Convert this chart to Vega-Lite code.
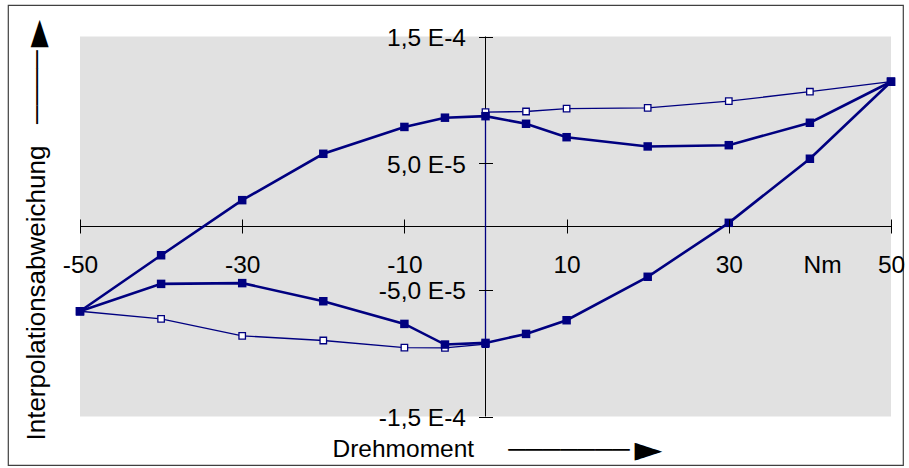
{
  "$schema": "https://vega.github.io/schema/vega-lite/v6.json",
  "width": 895,
  "height": 460,
  "autosize": {"type": "none"},
  "padding": {"left": 8, "top": 5, "right": 6, "bottom": 3},
  "background": "white",
  "config": {
    "view": {"stroke": "#404040", "strokeWidth": 1.2, "fill": "white"},
    "font": "Liberation Sans"
  },
  "resolve": {"axis": {"x": "independent", "y": "independent"}},
  "data": {
    "values": [
      {"s": "A", "i": 1, "x": -50, "y": -6.69e-5},
      {"s": "A", "i": 2, "x": -40, "y": -2.27e-5},
      {"s": "A", "i": 3, "x": -30, "y": 2.08e-5},
      {"s": "A", "i": 4, "x": -20, "y": 5.74e-5},
      {"s": "A", "i": 5, "x": -10, "y": 7.86e-5},
      {"s": "A", "i": 6, "x": -5, "y": 8.59e-5},
      {"s": "A", "i": 7, "x": 0, "y": 8.71e-5},
      {"s": "A", "i": 8, "x": 5, "y": 8.11e-5},
      {"s": "A", "i": 9, "x": 10, "y": 7.05e-5},
      {"s": "A", "i": 10, "x": 20, "y": 6.32e-5},
      {"s": "A", "i": 11, "x": 30, "y": 6.42e-5},
      {"s": "A", "i": 12, "x": 40, "y": 8.19e-5},
      {"s": "A", "i": 13, "x": 50, "y": 11.43e-5},
      {"s": "B", "i": 1, "x": -50, "y": -6.69e-5},
      {"s": "B", "i": 2, "x": -40, "y": -4.53e-5},
      {"s": "B", "i": 3, "x": -30, "y": -4.47e-5},
      {"s": "B", "i": 4, "x": -20, "y": -5.90e-5},
      {"s": "B", "i": 5, "x": -10, "y": -7.69e-5},
      {"s": "B", "i": 6, "x": -5, "y": -9.32e-5},
      {"s": "B", "i": 7, "x": 0, "y": -9.19e-5},
      {"s": "B", "i": 8, "x": 5, "y": -8.48e-5},
      {"s": "B", "i": 9, "x": 10, "y": -7.40e-5},
      {"s": "B", "i": 10, "x": 20, "y": -3.97e-5},
      {"s": "B", "i": 11, "x": 30, "y": 0.29e-5},
      {"s": "B", "i": 12, "x": 40, "y": 5.35e-5},
      {"s": "B", "i": 13, "x": 50, "y": 11.43e-5},
      {"s": "C", "i": 1, "x": -50, "y": -6.69e-5},
      {"s": "C", "i": 2, "x": -40, "y": -7.29e-5},
      {"s": "C", "i": 3, "x": -30, "y": -8.63e-5},
      {"s": "C", "i": 4, "x": -20, "y": -9.00e-5},
      {"s": "C", "i": 5, "x": -10, "y": -9.56e-5},
      {"s": "C", "i": 6, "x": -5, "y": -9.58e-5},
      {"s": "C", "i": 7, "x": 0, "y": -9.28e-5},
      {"s": "C", "i": 8, "x": 0, "y": 9.03e-5},
      {"s": "C", "i": 9, "x": 5, "y": 9.08e-5},
      {"s": "C", "i": 10, "x": 10, "y": 9.30e-5},
      {"s": "C", "i": 11, "x": 20, "y": 9.37e-5},
      {"s": "C", "i": 12, "x": 30, "y": 9.90e-5},
      {"s": "C", "i": 13, "x": 40, "y": 10.64e-5},
      {"s": "C", "i": 14, "x": 50, "y": 11.43e-5}
    ]
  },
  "layer": [
    {
      "data": {"values": [{}]},
      "mark": {"type": "rect", "fill": "#e1e1e1"},
      "encoding": {
        "x": {
          "datum": -50, "type": "quantitative",
          "scale": {"domain": [-50, 50], "range": [72, 883], "nice": false, "zero": false},
          "axis": {
            "orient": "bottom", "offset": -246, "zindex": 1,
            "domain": false, "grid": false,
            "values": [-50, -30, -10, 10, 30, 41.5, 50],
            "tickSize": 14, "tickColor": "black", "tickWidth": 1,
            "tickOpacity": {"condition": {"test": "datum.value === 41.5", "value": 0}, "value": 1},
            "labelExpr": "datum.value === 41.5 ? 'Nm' : '' + datum.value",
            "labelFont": "Liberation Sans", "labelFontSize": 24.5, "labelColor": "black",
            "labelPadding": 20.5, "labelBaseline": "top",
            "labelFlush": false, "labelOverlap": false, "labelBound": false,
            "title": "Drehmoment\u00a0\u00a0\u00a0\u00a0\u00a0───────",
            "titleFont": "Liberation Sans", "titleFontSize": 24.5, "titleFontWeight": "normal", "titleColor": "black",
            "titleX": 324, "titleY": 237, "titleAlign": "left", "titleBaseline": "alphabetic", "titleAngle": 0
          }
        },
        "x2": {"datum": 50},
        "y": {
          "datum": -1.5e-4, "type": "quantitative",
          "scale": {"domain": [-1.5e-4, 1.5e-4], "range": [411.5, 31.5], "nice": false, "zero": false},
          "axis": {
            "orient": "left", "offset": -484.5, "zindex": 1,
            "domain": false, "grid": false,
            "values": [-1.5e-4, -5e-5, 5e-5, 1.5e-4],
            "tickSize": 14, "tickColor": "black", "tickWidth": 1,
            "labelExpr": "datum.value > 1e-4 ? '1,5 E-4' : datum.value > 0 ? '5,0 E-5' : datum.value > -1e-4 ? '-5,0 E-5' : '-1,5 E-4'",
            "labelFont": "Liberation Sans", "labelFontSize": 24.5, "labelColor": "black",
            "labelPadding": 13, "labelAlign": "right", "labelBaseline": "alphabetic", "labelOffset": 9,
            "labelFlush": false, "labelOverlap": false, "labelBound": false,
            "title": "Interpolationsabweichung\u00a0\u00a0\u00a0────",
            "titleFont": "Liberation Sans", "titleFontSize": 26, "titleFontWeight": "normal", "titleColor": "black",
            "titleX": -448.5, "titleY": 435, "titleAlign": "left", "titleBaseline": "alphabetic", "titleAngle": -90
          }
        },
        "y2": {"datum": 1.5e-4}
      }
    },
    {
      "data": {"values": [{}]},
      "mark": {"type": "rule", "color": "black", "strokeWidth": 1},
      "encoding": {
        "x": {
          "datum": 0, "type": "quantitative",
          "axis": {
            "orient": "bottom", "offset": 0, "zindex": 1,
            "domain": false, "ticks": false, "labels": false, "grid": false,
            "title": "►",
            "titleFont": "DejaVu Sans", "titleFontSize": 36, "titleFontWeight": "normal", "titleColor": "black",
            "titleX": 626, "titleY": -4.5, "titleAlign": "left", "titleBaseline": "alphabetic", "titleAngle": 0
          }
        },
        "y": {"datum": -1.5e-4, "type": "quantitative", "axis": null},
        "y2": {"datum": 1.5e-4}
      }
    },
    {
      "data": {"values": [{}]},
      "mark": {"type": "rule", "color": "black", "strokeWidth": 1},
      "encoding": {
        "y": {
          "datum": 0, "type": "quantitative",
          "axis": {
            "orient": "left", "offset": 0, "zindex": 1,
            "domain": false, "ticks": false, "labels": false, "grid": false,
            "title": "►",
            "titleFont": "DejaVu Sans", "titleFontSize": 36, "titleFontWeight": "normal", "titleColor": "black",
            "titleX": 40, "titleY": 41.7, "titleAlign": "left", "titleBaseline": "alphabetic", "titleAngle": -90
          }
        },
        "x": {"datum": -50, "type": "quantitative", "axis": null},
        "x2": {"datum": 50}
      }
    },
    {
      "transform": [{"filter": "datum.s === 'C'"}],
      "mark": {"type": "line", "color": "#000080", "strokeWidth": 1.3},
      "encoding": {
        "x": {"field": "x", "type": "quantitative", "axis": null},
        "y": {"field": "y", "type": "quantitative", "axis": null},
        "order": {"field": "i", "type": "quantitative"}
      }
    },
    {
      "transform": [{"filter": "datum.s !== 'C'"}],
      "mark": {"type": "line", "color": "#000080", "strokeWidth": 2.6},
      "encoding": {
        "x": {"field": "x", "type": "quantitative", "axis": null},
        "y": {"field": "y", "type": "quantitative", "axis": null},
        "detail": {"field": "s", "type": "nominal"},
        "order": {"field": "i", "type": "quantitative"}
      }
    },
    {
      "transform": [{"filter": "datum.s === 'C'"}],
      "mark": {"type": "square", "filled": true, "fill": "white", "stroke": "#000080", "strokeWidth": 1.3, "size": 42, "opacity": 1},
      "encoding": {
        "x": {"field": "x", "type": "quantitative", "axis": null},
        "y": {"field": "y", "type": "quantitative", "axis": null}
      }
    },
    {
      "transform": [{"filter": "datum.s !== 'C'"}],
      "mark": {"type": "square", "filled": true, "color": "#000080", "size": 72, "opacity": 1},
      "encoding": {
        "x": {"field": "x", "type": "quantitative", "axis": null},
        "y": {"field": "y", "type": "quantitative", "axis": null}
      }
    }
  ]
}
